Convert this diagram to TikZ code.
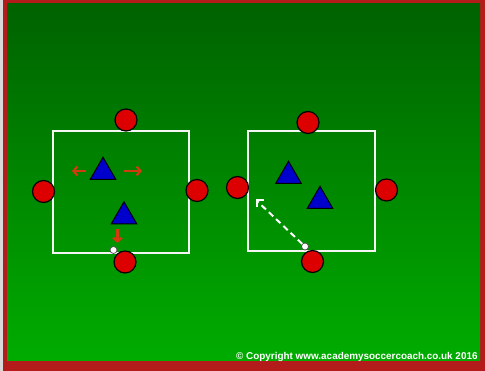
\documentclass[tikz,border=0pt]{standalone}
\usepackage{fontspec}
\setmainfont{Liberation Sans}
\usetikzlibrary{shapes.geometric,arrows.meta}
\definecolor{frame}{HTML}{B41C1C}
\definecolor{fieldtop}{HTML}{006200}
\definecolor{fieldbot}{HTML}{00AC00}
\definecolor{player}{HTML}{DD0000}
\definecolor{attacker}{HTML}{0000CC}
\definecolor{runarrow}{HTML}{D23A10}
\tikzset{
  gridbox/.style={draw=white!92!gray, line width=2pt},
  redplayer/.style={circle, fill=player, draw=black, line width=1.2pt, minimum size=22pt, inner sep=0pt},
  blueplayer/.style={regular polygon, regular polygon sides=3, fill=attacker, draw=black, line width=1pt, minimum size=29.5pt, inner sep=0pt},
  ballnode/.style={circle, fill=white, draw=black!70, line width=0.7pt, minimum size=7pt, inner sep=0pt},
  runline/.style={draw=runarrow, line width=2.2pt, -{Straight Barb[length=4pt,width=9pt]}},
  passline/.style={draw=white, line width=2pt, dash pattern=on 6pt off 4pt},
  passtip/.style={draw=white, line width=2pt},
}
\begin{document}
\begin{tikzpicture}[x=1pt,y=-1pt]
\useasboundingbox (0,0) rectangle (485,371);
% frame and field
\fill[frame] (0,0) rectangle (485,371);
\fill[gray!30] (0,0) rectangle (3,371);
\shade[top color=fieldtop, bottom color=fieldbot] (7,4) rectangle (480,361);
% left grid
\draw[gridbox] (53,131.5) rectangle (189,253.5);
\node[redplayer] (l1) at (126,120) {};
\node[redplayer] (l2) at (43.5,191.5) {};
\node[redplayer] (l3) at (197,190.5) {};
\node[redplayer] (l4) at (125,262) {};
\node[blueplayer] (lt1) at (103,172) {};
\node[blueplayer] (lt2) at (124,216.5) {};
\node[ballnode] (lb) at (113.5,250) {};
\coordinate (a1s) at (86,171);
\coordinate (a1e) at (72,171);
\coordinate (a2s) at (124,171);
\coordinate (a2e) at (142,171);
\coordinate (a3s) at (117.5,229);
\coordinate (a3e) at (117.5,243);
\draw[runline] (a1s) -- (a1e);
\draw[runline] (a2s) -- (a2e);
\draw[runline] (a3s) -- (a3e);
% right grid
\draw[gridbox] (248,131.5) rectangle (375,251.5);
\node[redplayer] (r1) at (308,122.5) {};
\node[redplayer] (r2) at (237.5,187.5) {};
\node[redplayer] (r3) at (386.5,190) {};
\node[redplayer] (r4) at (312.5,261.5) {};
\node[blueplayer] (rt1) at (288.5,176) {};
\node[blueplayer] (rt2) at (320,201) {};
\node[ballnode] (rb) at (305,246.5) {};
\coordinate (pe) at (256.5,200.5);
\coordinate (pv) at (256.5,207.5);
\coordinate (ph) at (263.5,200.5);
\draw[passline] (rb) -- (pe);
\draw[passtip] (pv) -- (pe) -- (ph);
% copyright
\node[anchor=base west, inner sep=0pt, text=white, font=\bfseries\fontsize{9.9}{10.5}\selectfont] (copy) at (236,359.5) {© Copyright www.academysoccercoach.co.uk 2016};
\end{tikzpicture}
\end{document}
